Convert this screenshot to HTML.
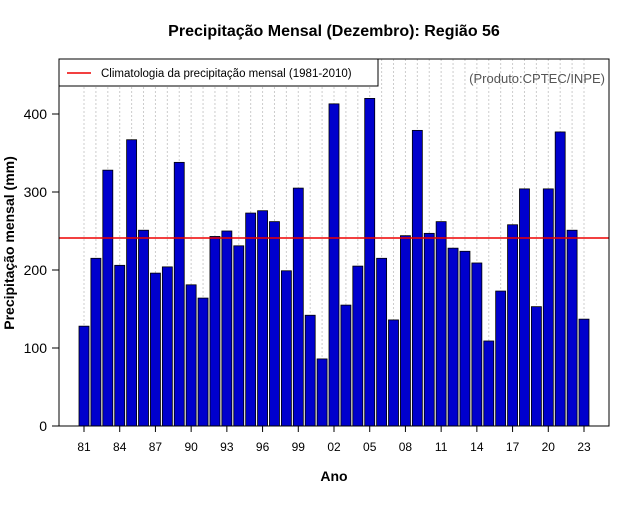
<!DOCTYPE html>
<html><head><meta charset="utf-8"><style>
body{margin:0;background:#fff;font-family:"Liberation Sans",sans-serif}
</style></head><body>
<svg width="640" height="500" xmlns="http://www.w3.org/2000/svg" font-family="Liberation Sans, sans-serif">
<text x="334" y="36" text-anchor="middle" font-size="16" font-weight="bold">Precipitação Mensal (Dezembro): Região 56</text>
<g id="grid"></g>
<g id="bars"></g>
<g id="axes"></g>
<rect x="59" y="59" width="550" height="367" fill="none" stroke="#000"/>
<g>
<rect x="59" y="59" width="319" height="27" fill="#fff" stroke="#000"/>
<line x1="67" y1="73" x2="91" y2="73" stroke="#e00" stroke-width="1.5"/>
<text x="101" y="77" font-size="11.5">Climatologia da precipitação mensal (1981-2010)</text>
</g>
<text x="605" y="83" text-anchor="end" font-size="13" fill="#555">(Produto:CPTEC/INPE)</text>
<text x="334" y="481" text-anchor="middle" font-size="14" font-weight="bold">Ano</text>
<text transform="translate(14,243) rotate(-90)" text-anchor="middle" font-size="14" font-weight="bold">Precipitação mensal (mm)</text>
</svg>
<script>
const years=[];for(let y=1981;y<=2023;y++)years.push(y);
const values=[128,215,328,206,367,251,196,204,338,181,164,243,250,231,273,276,262,199,305,142,86,413,155,205,420,215,136,244,379,247,262,228,224,209,109,173,258,304,153,304,377,251,137];
const climatology=241;
const yTicks=[0,100,200,300,400];
const NS="http://www.w3.org/2000/svg";
const x0=84,dx=(584-84)/42,bw=10;
const xs=i=>x0+i*dx;
const ys=v=>426-v*0.78;
function mk(t,a,p){const e=document.createElementNS(NS,t);for(const k in a)e.setAttribute(k,a[k]);p.appendChild(e);return e;}
const grid=document.getElementById('grid'),bars=document.getElementById('bars'),axes=document.getElementById('axes');
years.forEach((y,i)=>{
 const g=mk('line',{x1:xs(i),x2:xs(i),y1:59,y2:426,stroke:'#ccc','stroke-dasharray':'2,2'},grid);
 
 
 const r=mk('rect',{x:xs(i)-bw/2,y:ys(values[i]),width:bw,height:426-ys(values[i]),fill:'#0000cd',stroke:'#000','stroke-width':0.8},bars);
 
 
 if(i%3===0){
  const t=mk('line',{x1:xs(i),x2:xs(i),y1:426,y2:432,stroke:'#000'},axes);
  
  
  const l=mk('text',{x:xs(i),y:451,'text-anchor':'middle','font-size':12},axes);
  l.textContent=String(y).slice(2);
  
  
 }
});
yTicks.forEach(v=>{
 const t=mk('line',{x1:52,x2:59,y1:ys(v),y2:ys(v),stroke:'#000'},axes);
 
 
 const l=mk('text',{x:47,y:ys(v)+5,'text-anchor':'end','font-size':14},axes);
 l.textContent=v;
 
 
});
const cl=mk('line',{x1:59,x2:609,y1:ys(climatology),y2:ys(climatology),stroke:'#e00','stroke-width':1.5},axes);


</script>
</body></html>
